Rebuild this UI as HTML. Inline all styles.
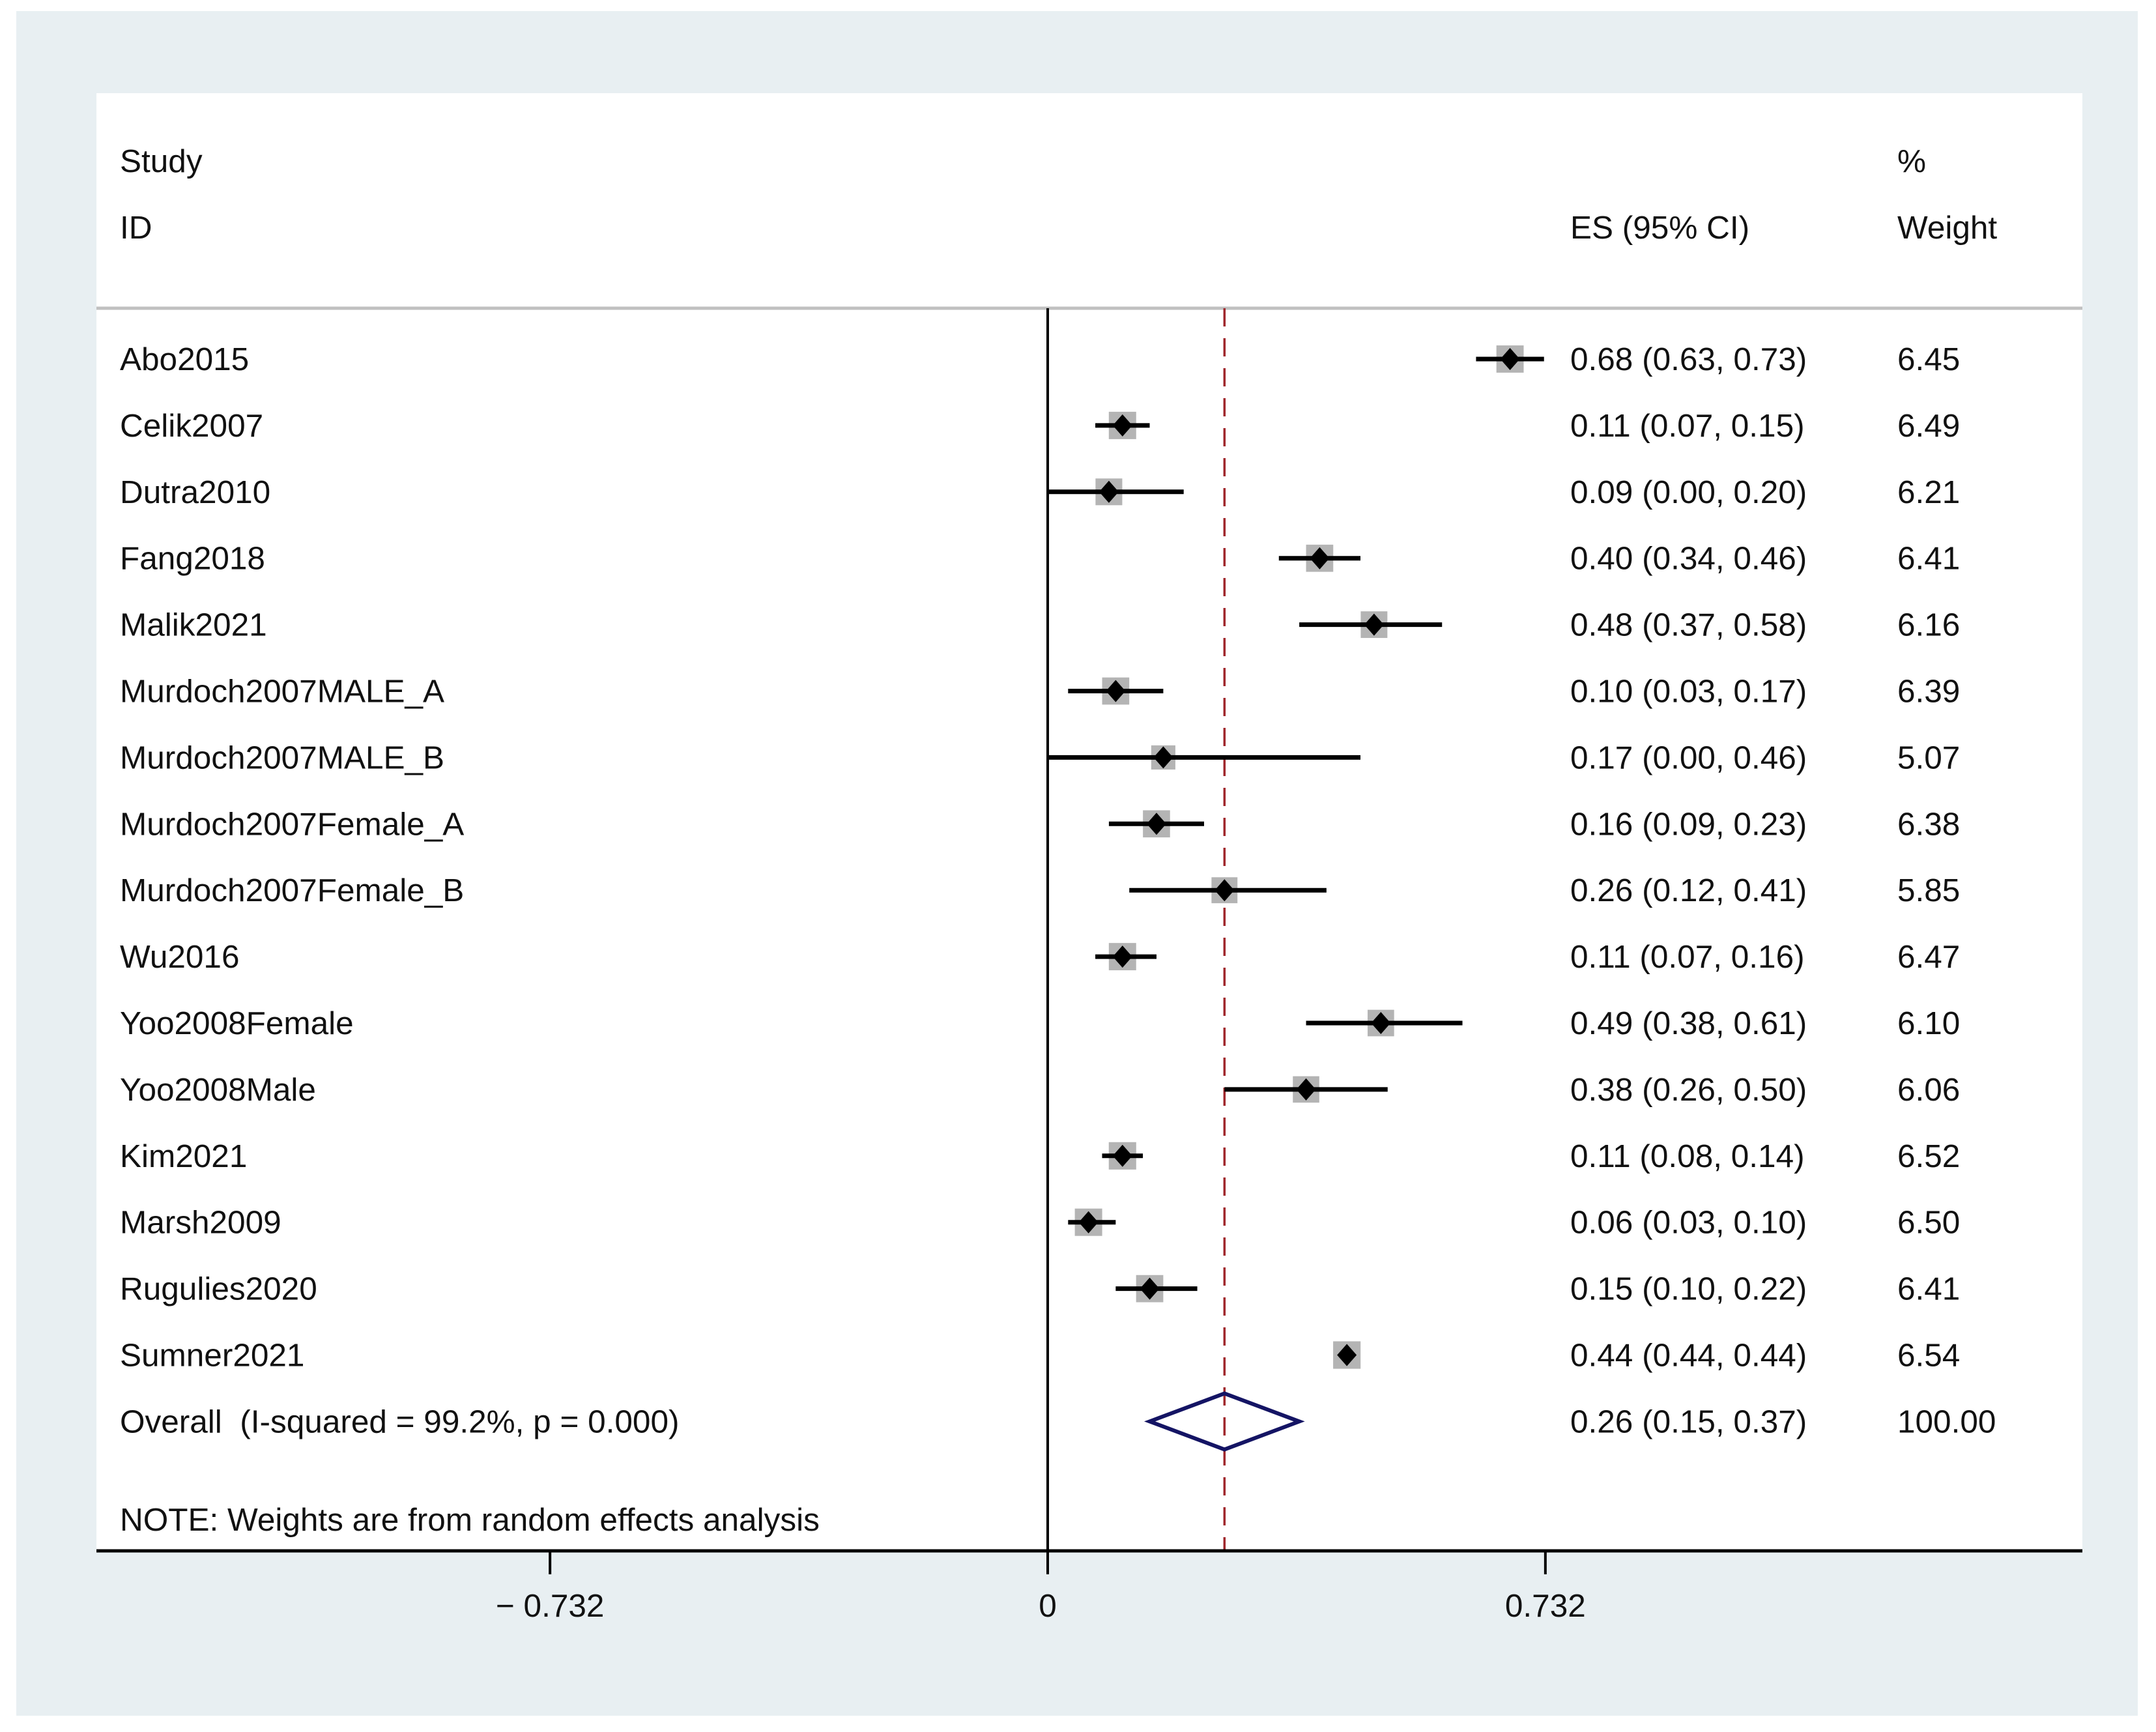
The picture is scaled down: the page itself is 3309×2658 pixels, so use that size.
<!DOCTYPE html>
<html><head><meta charset="utf-8"><style>
html,body{margin:0;padding:0;background:#fff;}
svg{display:block;}
text{font-family:"Liberation Sans",sans-serif;font-size:49.5px;fill:#111;white-space:pre;}
</style></head><body>
<svg id="chart" width="3309" height="2658" viewBox="0 0 3309 2658" xmlns="http://www.w3.org/2000/svg">
<rect x="25" y="17" width="3256" height="2616" fill="#e8eff2"/>
<rect x="148" y="143" width="3048" height="2237" fill="#fff"/>
<line x1="148" y1="473" x2="3196" y2="473" stroke="#c0c0c0" stroke-width="5"/>
<text x="184" y="264">Study</text>
<text x="184" y="366">ID</text>
<text x="2410" y="366">ES (95% CI)</text>
<text x="2912" y="264">%</text>
<text x="2912" y="366">Weight</text>
<g id="marks"></g>
<text x="184" y="2349">NOTE: Weights are from random effects analysis</text>
</svg>
<script>
const studies = ["Abo2015","Celik2007","Dutra2010","Fang2018","Malik2021","Murdoch2007MALE_A","Murdoch2007MALE_B","Murdoch2007Female_A","Murdoch2007Female_B","Wu2016","Yoo2008Female","Yoo2008Male","Kim2021","Marsh2009","Rugulies2020","Sumner2021"];
const es = [0.68,0.11,0.09,0.40,0.48,0.10,0.17,0.16,0.26,0.11,0.49,0.38,0.11,0.06,0.15,0.44];
const lo = [0.63,0.07,0.00,0.34,0.37,0.03,0.00,0.09,0.12,0.07,0.38,0.26,0.08,0.03,0.10,0.44];
const hi = [0.73,0.15,0.20,0.46,0.58,0.17,0.46,0.23,0.41,0.16,0.61,0.50,0.14,0.10,0.22,0.44];
const weights = [6.45,6.49,6.21,6.41,6.16,6.39,5.07,6.38,5.85,6.47,6.10,6.06,6.52,6.50,6.41,6.54];
const overall = [0.26,0.15,0.37];
const overallLabel = "Overall  (I-squared = 99.2%, p = 0.000)";
const ticks = [-0.732,0,0.732];
const tickLabels = ["\u2212 0.732","0","0.732"];

const NS="http://www.w3.org/2000/svg";
const g=document.getElementById('marks');
const X0=1608, PXU=1043.5;
const xs=v=>X0+v*PXU;
const Y0=551, STEP=101.9;
const ys=i=>Y0+i*STEP;
const AXY=2380;
function mk(tag,attrs,parent){const e=document.createElementNS(NS,tag);for(const k in attrs)e.setAttribute(k,attrs[k]);(parent||g).appendChild(e);return e;}
const f2=v=>v.toFixed(2);

let e=mk('line',{x1:xs(0),y1:473,x2:xs(0),y2:AXY,stroke:'#000','stroke-width':4});


e=mk('line',{x1:xs(overall[0]),y1:473,x2:xs(overall[0]),y2:AXY,stroke:'#a0282d','stroke-width':3.5,'stroke-dasharray':'28 18'});



studies.forEach((s,i)=>{
  const y=ys(i);
  const grp=mk('g',{});
  
  
  const side=42*Math.sqrt(weights[i]/6.5);
  let b=mk('rect',{x:xs(es[i])-side/2,y:y-side/2,width:side,height:side,fill:'#b4b4b4'},grp);
  
  
  if(hi[i]>lo[i]){
    let l=mk('line',{x1:xs(lo[i]),y1:y,x2:xs(hi[i]),y2:y,stroke:'#000','stroke-width':7},grp);
    
    
  }
  const cx=xs(es[i]);
  let d=mk('polygon',{points:`${cx},${y-17} ${cx+15},${y} ${cx},${y+17} ${cx-15},${y}`,fill:'#000'},grp);
  
  
  let t=mk('text',{x:184,y:y+17},grp);t.textContent=s;
  
  
  t=mk('text',{x:2410,y:y+17},grp);t.textContent=`${f2(es[i])} (${f2(lo[i])}, ${f2(hi[i])})`;
  
  
  t=mk('text',{x:2912,y:y+17},grp);t.textContent=f2(weights[i]);
  
  
});

const oy=ys(studies.length);
e=mk('polygon',{points:`${xs(overall[1])},${oy} ${xs(overall[0])},${oy-43} ${xs(overall[2])},${oy} ${xs(overall[0])},${oy+43}`,fill:'none',stroke:'#141464','stroke-width':6});


e=mk('text',{x:184,y:oy+17});e.textContent=overallLabel;


e=mk('text',{x:2410,y:oy+17});e.textContent=`${f2(overall[0])} (${f2(overall[1])}, ${f2(overall[2])})`;


e=mk('text',{x:2912,y:oy+17});e.textContent="100.00";



e=mk('line',{x1:148,y1:AXY,x2:3196,y2:AXY,stroke:'#000','stroke-width':5});


ticks.forEach((v,i)=>{
  let t=mk('line',{x1:xs(v),y1:AXY,x2:xs(v),y2:AXY+36,stroke:'#000','stroke-width':4});
  
  
  let l=mk('text',{x:xs(v),y:AXY+101,'text-anchor':'middle'});l.textContent=tickLabels[i];
  
  
});
</script>
</body></html>
